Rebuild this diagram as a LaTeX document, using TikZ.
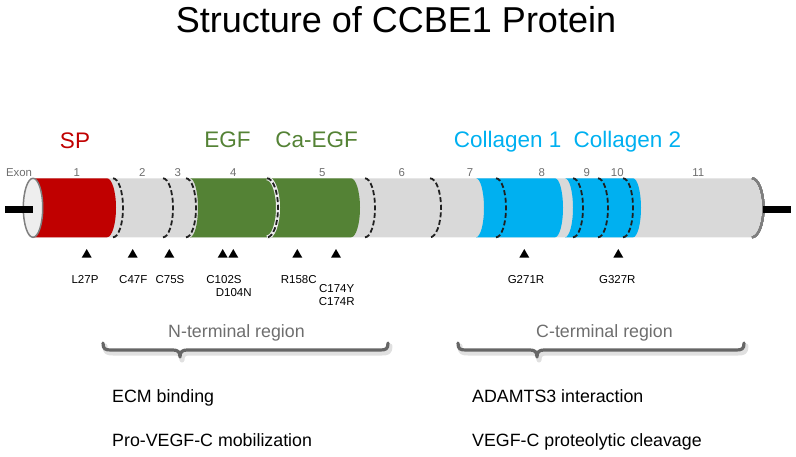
\documentclass[tikz,border=0pt]{standalone}
\usepackage{fontspec}
\setmainfont{Liberation Sans}
\usetikzlibrary{shapes.geometric}
\definecolor{spred}{HTML}{C00000}
\definecolor{egfgreen}{HTML}{548235}
\definecolor{colblue}{HTML}{00B0F0}
\definecolor{bodygrey}{HTML}{D9D9D9}
\definecolor{capgrey}{HTML}{EEEEEE}
\definecolor{edgegrey}{HTML}{7F7F7F}
\definecolor{labgrey}{HTML}{6E6E6E}
\definecolor{bracegrey}{HTML}{666666}
\tikzset{
  exonlab/.style={anchor=base, text=labgrey, font=\fontsize{11.4}{13}\selectfont, inner sep=0pt},
  domlab/.style={anchor=base, font=\fontsize{22.5}{26}\selectfont, inner sep=0pt},
  mutlab/.style={anchor=base, text=black, font=\fontsize{11.5}{13}\selectfont, inner sep=0pt},
  reglab/.style={anchor=base, text=labgrey, font=\fontsize{17.8}{20}\selectfont, inner sep=0pt},
  funclab/.style={anchor=base west, font=\fontsize{17.8}{20}\selectfont, inner sep=0pt},
  exonline/.style={black!88, dash pattern=on 5pt off 2.6pt, line width=1.8pt},
  exonhalo/.style={white!92!black, line width=4pt},
  bracepath/.style={bracegrey, line width=3.2pt, line cap=round, line join=round},
  braceshadow/.style={black!12, line width=5pt, line cap=round, line join=round},
  stubline/.style={black, line width=7pt},
  mutmarker/.style={regular polygon, regular polygon sides=3, minimum size=11.55pt, inner sep=0pt, fill=black},
}
\newcommand\cylband[5]{%
  \fill[#1] (#2,-178.3) arc[start angle=90,end angle=-90,x radius=#3,y radius=29.5]
     -- (#4,-237.3) arc[start angle=-90,end angle=90,x radius=#5,y radius=29.5] -- cycle;}
\newcommand\exonarc[2]{%
  \draw[exonline] (#1,-178.3) arc[start angle=90,end angle=-90,x radius=#2,y radius=29.5];}
\begin{document}
\begin{tikzpicture}[x=1pt,y=1pt]
\useasboundingbox (0,0) rectangle (796,-456);
% title
\node[anchor=base, font=\fontsize{36}{40}\selectfont, inner sep=0pt] (title) at (396,-32) {Structure of CCBE1 Protein};
% domain labels
\node[domlab, text=spred] (sp) at (75,-148) {SP};
\node[domlab, text=egfgreen] (egf) at (227.5,-147.5) {EGF};
\node[domlab, text=egfgreen] (caegf) at (316.7,-147.5) {Ca-EGF};
\node[domlab, text=colblue] (col1) at (507.7,-147.5) {Collagen 1};
\node[domlab, text=colblue] (col2) at (627.5,-147.5) {Collagen 2};
% exon labels
\node[exonlab] (exon) at (19,-176.5) {Exon};
\foreach \n/\x in {1/76.7,2/142.3,3/177.7,4/233.3,5/322.3,6/401.7,7/470,8/541.7,9/586.7,10/617.3,11/698.3}
  \node[exonlab] (ex\n) at (\x,-176.5) {\n};
% mutation labels
\node[mutlab] (l27p) at (85,-283) {L27P};
\node[mutlab] (c47f) at (133.3,-283) {C47F};
\node[mutlab] (c75s) at (170,-283) {C75S};
\node[mutlab] (c102s) at (224,-283) {C102S};
\node[mutlab] (d104n) at (233.7,-296) {D104N};
\node[mutlab] (r158c) at (298.7,-283) {R158C};
\node[mutlab] (c174y) at (336.7,-292) {C174Y};
\node[mutlab] (c174r) at (336.7,-305.5) {C174R};
\node[mutlab] (g271r) at (526,-283) {G271R};
\node[mutlab] (g327r) at (617.3,-283) {G327R};
% regions
\node[reglab] (nterm) at (236.5,-337) {N-terminal region};
\node[reglab] (cterm) at (604.5,-337) {C-terminal region};
% functions
\node[funclab] (ecm) at (112,-402) {ECM binding};
\node[funclab] (prov) at (112,-446) {Pro-VEGF-C mobilization};
\node[funclab] (adamts) at (472,-402) {ADAMTS3 interaction};
\node[funclab] (vegfc) at (472,-446) {VEGF-C proteolytic cleavage};
% cylinder body
\fill[bodygrey] (33,-178.3) -- (752,-178.3) arc[start angle=90,end angle=-90,x radius=11.5,y radius=29.5] -- (33,-237.3) -- cycle;
\cylband{spred}{33}{9.7}{107}{9}
\cylband{egfgreen}{190}{8}{351}{9}
\cylband{colblue}{476}{8}{555}{8}
\cylband{colblue}{565}{8}{633}{8}
% exon boundaries
\draw[exonhalo] (267,-178.3) arc[start angle=90,end angle=-90,x radius=11,y radius=29.5];
\foreach \x/\r in {113/10,163/10,186/10,267/11,365/10,430/11,496/10,573/10,598/10,623/10}
  \exonarc{\x}{\r}
% right end
\draw[edgegrey, line width=2pt] (752,-178.3) arc[start angle=90,end angle=-90,x radius=11.5,y radius=29.5];
% left cap
\draw[fill=capgrey, draw=edgegrey, line width=1.5pt] (33,-207.8) ellipse[x radius=9.7, y radius=29.5];
% stubs
\draw[stubline] (5,-209.5) -- (33,-209.5);
\draw[stubline] (763,-209.5) -- (791,-209.5);
% braces
\begin{scope}[shift={(2,-3)}]
\draw[braceshadow] (103,-343) .. controls (103,-349) and (105,-350) .. (111,-350) -- (173,-350) .. controls (178,-350) and (180,-352) .. (180,-357) .. controls (180,-352) and (182,-350) .. (187,-350) -- (380,-350) .. controls (386,-350) and (388,-349) .. (388,-343);
\draw[braceshadow] (458,-343) .. controls (458,-349) and (460,-350) .. (466,-350) -- (530,-350) .. controls (535,-350) and (537,-352) .. (537,-357) .. controls (537,-352) and (539,-350) .. (544,-350) -- (736,-350) .. controls (742,-350) and (744,-349) .. (744,-343);
\end{scope}
\draw[bracepath] (103,-343) .. controls (103,-349) and (105,-350) .. (111,-350) -- (173,-350) .. controls (178,-350) and (180,-352) .. (180,-357) .. controls (180,-352) and (182,-350) .. (187,-350) -- (380,-350) .. controls (386,-350) and (388,-349) .. (388,-343);
\draw[bracepath] (458,-343) .. controls (458,-349) and (460,-350) .. (466,-350) -- (530,-350) .. controls (535,-350) and (537,-352) .. (537,-357) .. controls (537,-352) and (539,-350) .. (544,-350) -- (736,-350) .. controls (742,-350) and (744,-349) .. (744,-343);
% mutation markers
\foreach \x [count=\i] in {86.7,132.7,169.3,222.7,233.3,297.3,336,524.3,618.3}
  \node[mutmarker] (m\i) at (\x,-254.8) {};
\end{tikzpicture}
\end{document}
